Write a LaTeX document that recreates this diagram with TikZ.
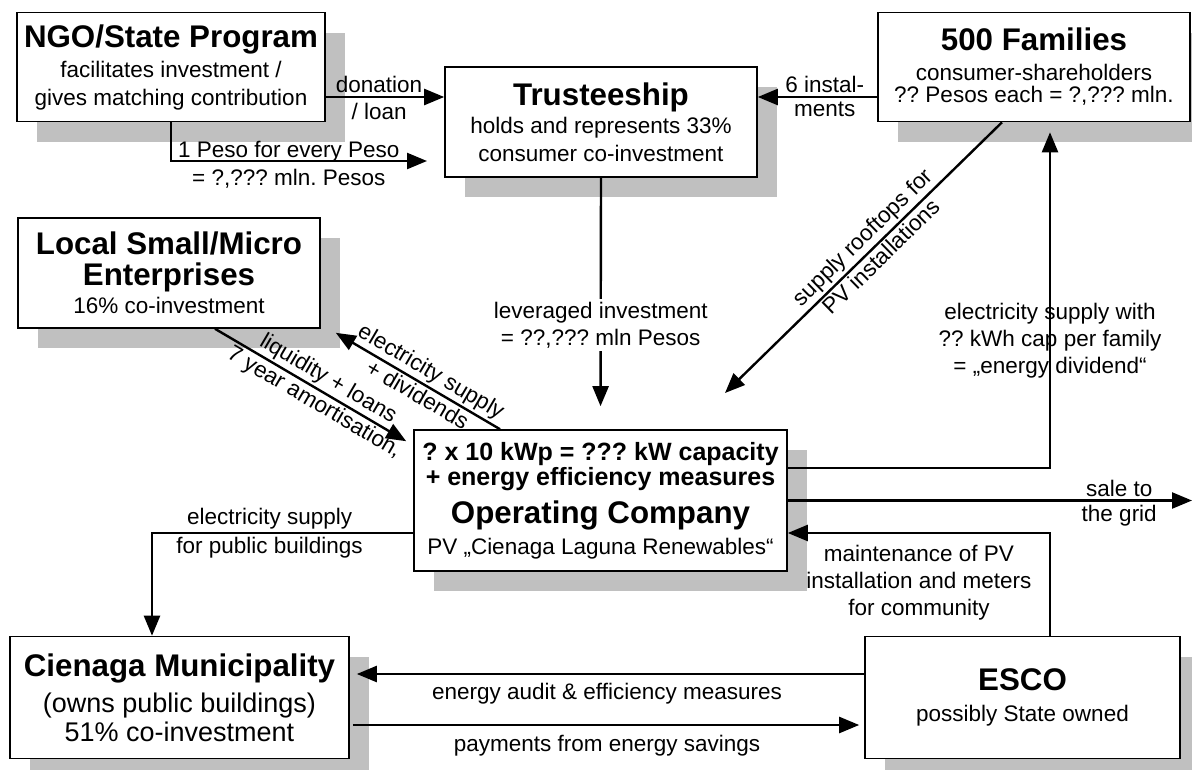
\documentclass[tikz,border=0pt]{standalone}
\usepackage{fontspec}
\setmainfont{Liberation Sans}
\usetikzlibrary{arrows.meta, positioning, shadows, calc}
\definecolor{shadowgray}{RGB}{192,192,192}
\newcommand{\boxtitle}{\fontsize{31.3}{36}\selectfont\bfseries}
\newcommand{\boxbold}{\fontsize{25}{30}\selectfont\bfseries}
\frenchspacing

\begin{document}
\begin{tikzpicture}[
  x=1pt, y=-1pt,
  box/.style={rectangle, draw, line width=1.6pt, fill=white, align=center, inner sep=0pt,
    font=\fontsize{22.5}{28}\selectfont,
    drop shadow={shadow xshift=20pt, shadow yshift=-20pt, fill=shadowgray, opacity=1}},
  lbl/.style={inner sep=3pt, align=center, font=\fontsize{22.5}{27}\selectfont},
  arrow/.style={-{Triangle[length=20pt, width=16pt]}, line width=2.4pt}
]
\useasboundingbox (0,0) rectangle (1192,769);

\node (ngo) [box, minimum width=308pt, minimum height=109pt] at (171,67) {{\boxtitle NGO/State Program}\\[2pt] facilitates investment /\\ gives matching contribution};
\node (trust) [box, minimum width=312pt, minimum height=110pt] at (601,122) {{\boxtitle Trusteeship}\\ holds and represents 33\%\\ consumer co-investment};
\node (fam) [box, minimum width=312pt, minimum height=109pt] at (1034,67) {{\boxtitle 500 Families}\\[2pt] consumer-shareholders\\[-6pt] ?? Pesos each = ?,??? mln.};
\node (local) [box, minimum width=302pt, minimum height=110pt] at (169,273) {{\boxtitle Local Small/Micro}\\[3pt] {\boxtitle Enterprises}\\ 16\% co-investment};
\node (op) [box, minimum width=373pt, minimum height=141pt] at (600.5,500.5) {{\boxbold ? x 10 kWp = ??? kW capacity}\\[-3pt] {\boxbold + energy efficiency measures}\\[10pt] {\boxtitle Operating Company}\\[3pt] PV „Cienaga Laguna Renewables“};
\node (muni) [box, minimum width=339pt, minimum height=122pt] at (179.5,697.5) {{\boxtitle Cienaga Municipality}\\[8pt] {\fontsize{27}{32}\selectfont (owns public buildings)}\\[1pt] {\fontsize{27}{32}\selectfont 51\% co-investment}};
\node (esco) [box, minimum width=315pt, minimum height=122pt] at (1022.5,697.5) {{\boxtitle ESCO}\\[3pt] possibly State owned};

\coordinate (don) at ([yshift=-30pt]ngo.east);
\coordinate (inst) at ([yshift=-30pt]fam.west);
\coordinate (pesoend) at (427,161);
\coordinate (roofend) at (725,393);
\coordinate (gridend) at (1192,500.5);

\draw [arrow] (don) -- (don -| trust.west) node (ldon) [lbl, above, pos=0.45] {donation} node (lloan) [lbl, below=2pt, pos=0.45] {/ loan};
\draw [arrow] (inst) -- (inst -| trust.east) node (linst) [lbl, above, pos=0.44] {6 instal-} node (lments) [lbl, below=1pt, pos=0.44] {ments};
\draw [arrow] (ngo.south) |- (pesoend) node (lpeso) [lbl, above=-5pt, pos=0.73] {1 Peso for every Peso} node (lmln) [lbl, below=4pt, pos=0.73] {= ?,??? mln. Pesos};
\draw [arrow, shorten >=23pt] (trust.south) -- (op.north) node (llev) [lbl, fill=white, pos=0.585] {leveraged investment\\= ??,??? mln Pesos};
\draw [arrow] ([xshift=-32pt]fam.south) -- (roofend) node (lroof) [lbl, sloped, above, pos=0.465, inner sep=2pt] {supply rooftops for} node (lpv) [lbl, sloped, below, pos=0.465, inner sep=2pt] {PV installations};
\draw [arrow] ([yshift=32.5pt]op.east) -| ([xshift=16pt, yshift=-10pt]fam.south) node (lcap) [lbl, pos=0.69] {electricity supply with\\?? kWh cap per family\\= „energy dividend“};
\draw [arrow] (op.east) -- (gridend) node (lsale) [lbl, above, pos=0.82] {sale to} node (lgrid) [lbl, below, pos=0.82] {the grid};
\draw [arrow] ([xshift=27.5pt]esco.north) |- ([yshift=-32.5pt]op.east) node (lmaint) [lbl, below=8pt, pos=0.75] {maintenance of PV\\installation and meters\\for community};
\draw [arrow] ([yshift=-32.5pt]op.west) -| ([xshift=-27.5pt]muni.north) node (lpub) [lbl, above, pos=0.275] {electricity supply} node (lbuild) [lbl, below, pos=0.275] {for public buildings};
\draw [arrow, shorten >=7pt] ([yshift=23.5pt]esco.west) -- ([yshift=23.5pt]muni.east) node (laudit) [lbl, below=5pt, pos=0.5] {energy audit \& efficiency measures};
\draw [arrow, shorten <=3pt, shorten >=5pt] ([yshift=-27.5pt]muni.east) -- ([yshift=-27.5pt]esco.west) node (lpay) [lbl, below=6pt, pos=0.5] {payments from energy savings};
\draw [arrow] ([xshift=46pt]local.south) -- ([xshift=-7pt, yshift=-12pt]op.north west) node (lliq) [lbl, sloped, above, pos=0.555, inner sep=2pt] {liquidity + loans} node (lamort) [lbl, sloped, below, pos=0.555, inner sep=2pt] {7 year amortisation,};
\draw [arrow] ([xshift=-100.5pt]op.north) -- ([xshift=15pt, yshift=-4pt]local.south east) node (lelec) [lbl, sloped, above, pos=0.465, inner sep=2pt] {electricity supply} node (ldiv) [lbl, sloped, below, pos=0.465, inner sep=2pt] {+ dividends};

\end{tikzpicture}
\end{document}
